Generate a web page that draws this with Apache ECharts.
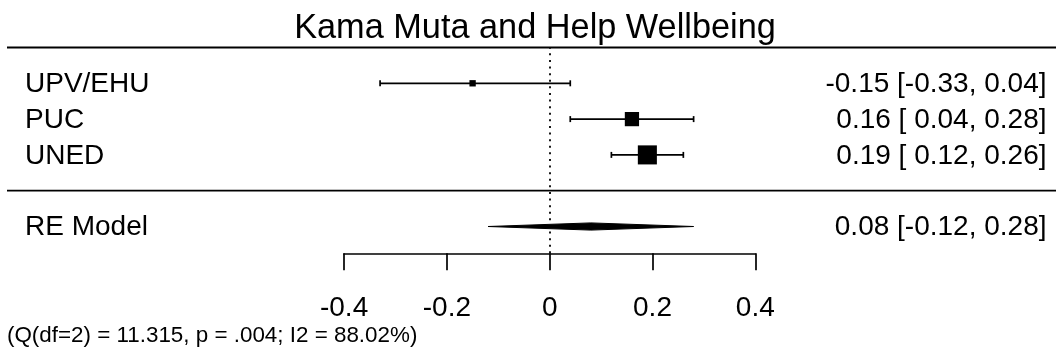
<!DOCTYPE html>
<html>
<head>
<meta charset="utf-8">
<script src="https://cdn.jsdelivr.net/npm/echarts@6/dist/echarts.min.js"></script>
<style>
  html, body { margin: 0; padding: 0; background: #ffffff; }
  #chart { width: 1056px; height: 356px; }
</style>
</head>
<body>
<div id="chart"></div>
<script>
// Study-level effects with 95% confidence intervals
const studies = ['UPV/EHU', 'PUC', 'UNED'];
const estimates = [-0.15, 0.16, 0.19];
const lowerCI = [-0.33, 0.04, 0.12];
const upperCI = [0.04, 0.28, 0.26];
// random-effects weights (%) used to scale the squares
const weightsPct = [28.9, 34.0, 37.1];

// pooled random-effects estimate
const pooledLabel = 'RE Model';
const pooledEstimate = 0.08;
const pooledLower = -0.12;
const pooledUpper = 0.28;

const xTicks = [-0.4, -0.2, 0, 0.2, 0.4];
const titleText = 'Kama Muta and Help Wellbeing';
const heterogeneityNote = '(Q(df=2) = 11.315, p = .004; I2 = 88.02%)';

const FONT = '"Liberation Sans", Arial, Helvetica, sans-serif';
const k = studies.length;
const rowOf = i => k - i;          // studies from the top: k, k-1, ..., 1
const pooledRow = -1;
const separatorRows = [k + 1, 0];

function fmt(v) { return v.toFixed(2); }
function fmtLower(v) { return (v >= 0 ? ' ' : '') + v.toFixed(2); }
function ciText(est, lb, ub) { return fmt(est) + ' [' + fmtLower(lb) + ', ' + fmt(ub) + ']'; }

// square side follows metafor's rescaling of weights into 0.5 .. 1.5
const wMin = Math.min(...weightsPct), wMax = Math.max(...weightsPct);
const BASE_SIZE = 12.7;
const squareSize = w => BASE_SIZE * (0.5 + (w - wMin) / (wMax - wMin));

const studyData = studies.map((s, i) => [estimates[i], rowOf(i), lowerCI[i], upperCI[i], squareSize(weightsPct[i])]);
const labelData = studies.map((s, i) => ({ value: [0, rowOf(i)], name: s, ci: ciText(estimates[i], lowerCI[i], upperCI[i]) }))
  .concat([{ value: [0, pooledRow], name: pooledLabel, ci: ciText(pooledEstimate, pooledLower, pooledUpper) }]);

const LEFT_TEXT_X = 25;
const RIGHT_TEXT_X = 1046.5;
const LINE_X0 = 7;
const LINE_X1 = 1056;
const CAP = 3;
const STROKE = { stroke: '#000', lineWidth: 1.7 };

const chart = echarts.init(document.getElementById('chart'), null, { renderer: 'canvas' });

chart.setOption({
  animation: false,
  backgroundColor: '#ffffff',
  grid: { left: 344.1, right: 300.7, top: 47.5, height: 205.85, containLabel: false },
  xAxis: {
    type: 'value',
    min: xTicks[0],
    max: xTicks[xTicks.length - 1],
    interval: 0.2,
    axisLine: { show: true, onZero: false, lineStyle: { color: '#000', width: 1.7 } },
    axisTick: { show: true, inside: false, length: 17, lineStyle: { color: '#000', width: 1.7 } },
    axisLabel: {
      show: true, margin: 55, verticalAlign: 'middle',
      color: '#000', fontSize: 28, fontFamily: FONT,
      formatter: v => (Math.abs(v) < 1e-9 ? '0' : v.toFixed(1))
    },
    splitLine: { show: false }
  },
  yAxis: { type: 'value', min: -1.75, max: k + 1, show: false },
  graphic: [
    {
      type: 'text', x: 535, y: 28.5,
      style: { text: titleText, fontSize: 34.3, fontFamily: FONT, fill: '#000', align: 'center', verticalAlign: 'middle' }
    },
    {
      type: 'text', x: 7, y: 335.5,
      style: { text: heterogeneityNote, fontSize: 22.4, fontFamily: FONT, fill: '#000', align: 'left', verticalAlign: 'middle' }
    }
  ],
  series: [
    {
      // separators across the full width
      type: 'custom', clip: false, silent: true,
      data: separatorRows.map(r => [0, r]),
      renderItem: (params, api) => {
        const y = api.coord([0, api.value(1)])[1];
        return { type: 'line', shape: { x1: LINE_X0, y1: y, x2: LINE_X1, y2: y }, style: { stroke: '#000', lineWidth: 1.8 } };
      },
      markLine: {
        silent: true, symbol: ['none', 'none'], label: { show: false },
        lineStyle: { color: '#000', width: 1.8, type: [2, 4.6] },
        data: [{ xAxis: 0 }]
      }
    },
    {
      // study intervals and weighted squares
      type: 'custom', clip: false, silent: true,
      data: studyData,
      renderItem: (params, api) => {
        const row = api.value(1);
        const c = api.coord([api.value(0), row]);
        const l = api.coord([api.value(2), row]);
        const r = api.coord([api.value(3), row]);
        const s = api.value(4);
        return {
          type: 'group',
          children: [
            { type: 'line', shape: { x1: l[0], y1: l[1], x2: r[0], y2: r[1] }, style: STROKE },
            { type: 'line', shape: { x1: l[0], y1: l[1] - CAP, x2: l[0], y2: l[1] + CAP }, style: STROKE },
            { type: 'line', shape: { x1: r[0], y1: r[1] - CAP, x2: r[0], y2: r[1] + CAP }, style: STROKE },
            { type: 'rect', shape: { x: c[0] - s / 2, y: c[1] - s / 2, width: s, height: s }, style: { fill: '#000' } }
          ]
        };
      }
    },
    {
      // pooled estimate diamond
      type: 'custom', clip: false, silent: true,
      data: [[pooledEstimate, pooledRow, pooledLower, pooledUpper]],
      renderItem: (params, api) => {
        const row = api.value(1);
        const c = api.coord([api.value(0), row]);
        const l = api.coord([api.value(2), row]);
        const r = api.coord([api.value(3), row]);
        const h = 3.6;
        return {
          type: 'polygon',
          shape: { points: [[l[0], l[1]], [c[0], c[1] - h], [r[0], r[1]], [c[0], c[1] + h]] },
          style: { fill: '#000', stroke: '#000', lineWidth: 1 }
        };
      }
    },
    {
      // row labels and estimate annotations
      type: 'custom', clip: false, silent: true,
      data: labelData,
      renderItem: (params, api) => {
        const item = labelData[params.dataIndex];
        const y = api.coord([0, api.value(1)])[1] + 1;
        return {
          type: 'group',
          children: [
            { type: 'text', x: LEFT_TEXT_X, y: y, style: { text: item.name, fontSize: 28, fontFamily: FONT, fill: '#000', align: 'left', verticalAlign: 'middle' } },
            { type: 'text', x: RIGHT_TEXT_X, y: y, style: { text: item.ci, fontSize: 28, fontFamily: FONT, fill: '#000', align: 'right', verticalAlign: 'middle' } }
          ]
        };
      }
    }
  ]
});
</script>
</body>
</html>
